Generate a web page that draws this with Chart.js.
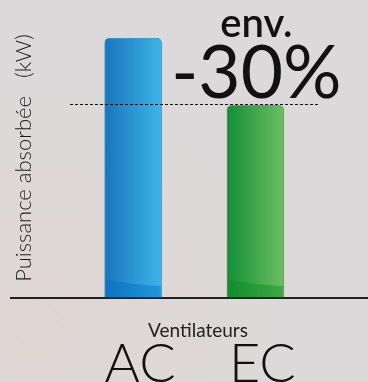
<!DOCTYPE html>
<html>
<head>
<meta charset="utf-8">
<script src="https://cdn.jsdelivr.net/npm/chart.js@4"></script>
<style>
  html, body { margin: 0; padding: 0; }
  body {
    width: 368px; height: 382px; overflow: hidden;
    background: radial-gradient(ellipse at 10% 85%, #e0d6d4 0%, #dcd9d9 45%, #dbd9d9 100%);
  }
</style>
</head>
<body>
<canvas id="myChart" width="368" height="382"></canvas>
<script>
// data
var categories = ['AC', 'EC'];
var values = [100, 74];
var yTitle = 'Puissance absorbée   (kW)';
var xTitle = 'Ventilateurs';
var noteTop = 'env.';
var noteBig = '-30%';

var barColors = [
  { left: '#1a76bd', right: '#3cb5e8', border: '#2b9fdc', shade: 'rgba(0,110,200,0.45)' },
  { left: '#148f37', right: '#6cbe62', border: '#4fae4d', shade: 'rgba(10,140,30,0.45)' }
];

function barGradient(context, key) {
  var chart = context.chart;
  if (!chart.chartArea) return barColors[context.dataIndex][key];
  var i = context.dataIndex;
  var x = chart.scales.x.getPixelForValue(i);
  var g = chart.ctx.createLinearGradient(x - 28, 0, x + 28, 0);
  g.addColorStop(0, barColors[i].left);
  g.addColorStop(1, barColors[i].right);
  return g;
}

// extra drawing: baseline, dashed reference, texts, glossy foot
var decorations = {
  id: 'decorations',
  afterDatasetsDraw: function (chart) {
    var ctx = chart.ctx;
    var area = chart.chartArea;
    var y = chart.scales.y;
    var meta = chart.getDatasetMeta(0);
    ctx.save();

    // darker foot band on bars
    meta.data.forEach(function (bar, i) {
      var l = bar.x - bar.width / 2 + 1, r = bar.x + bar.width / 2 - 1;
      ctx.beginPath();
      ctx.moveTo(l, area.bottom - 18);
      ctx.quadraticCurveTo(bar.x, area.bottom - 12, r, area.bottom - 11);
      ctx.lineTo(r, area.bottom);
      ctx.lineTo(l, area.bottom);
      ctx.closePath();
      ctx.fillStyle = barColors[i].shade;
      ctx.fill();
    });

    // dashed line at the EC level
    var yd = Math.round(y.getPixelForValue(values[1])) - 0.5;
    ctx.beginPath();
    ctx.setLineDash([3, 2]);
    ctx.strokeStyle = '#111';
    ctx.lineWidth = 1;
    ctx.moveTo(area.left - 2, yd);
    ctx.lineTo(area.right + 2, yd);
    ctx.stroke();
    ctx.setLineDash([]);

    // baseline
    ctx.beginPath();
    ctx.strokeStyle = '#222';
    ctx.lineWidth = 2;
    ctx.moveTo(10, area.bottom + 1);
    ctx.lineTo(chart.width, area.bottom + 1);
    ctx.stroke();

    ctx.fillStyle = '#111';
    ctx.textAlign = 'center';
    ctx.textBaseline = 'alphabetic';
    var cx = chart.scales.x.getPixelForValue(1) + 1;
    ctx.font = '600 40px Lato';
    ctx.fillText(noteTop, cx, 37);
    ctx.font = '400 73px Lato';
    ctx.fillText(noteBig, cx, 98);

    ctx.font = '19px Lato';
    ctx.fillStyle = '#222';
    ctx.fillText(xTitle, 198, 337);

    // y title
    ctx.save();
    ctx.translate(31, 158);
    ctx.rotate(-Math.PI / 2);
    ctx.font = '300 22px Lato';
    ctx.fillStyle = '#1a1a1a';
    ctx.fillText(yTitle, 0, 0);
    ctx.restore();

    ctx.restore();
  }
};

var ctx = document.getElementById('myChart').getContext('2d');
var chart = new Chart(ctx, {
  type: 'bar',
  data: {
    labels: categories,
    datasets: [{
      data: values,
      backgroundColor: function (c) { return barGradient(c); },
      borderColor: barColors.map(function (c) { return c.border; }),
      borderWidth: 1,
      borderRadius: { topLeft: 5, topRight: 5, bottomLeft: 0, bottomRight: 0 },
      borderSkipped: 'bottom',
      barThickness: 57
    }]
  },
  options: {
    responsive: false,
    animation: false,
    layout: { padding: { top: 38, right: 51.5, left: 0, bottom: 0 } },
    plugins: {
      legend: { display: false },
      tooltip: { enabled: false }
    },
    scales: {
      x: {
        grid: { display: false },
        border: { display: false },
        ticks: {
          color: '#111',
          font: { family: 'Lato', size: 54, weight: 300 },
          padding: 27,
          labelOffset: 7
        },
        afterFit: function (scale) { scale.height = 85; }
      },
      y: {
        min: 0,
        max: 100,
        grid: { display: false },
        border: { display: false },
        ticks: { display: false },
        afterFit: function (scale) { scale.width = 72; }
      }
    }
  },
  plugins: [decorations]
});
</script>
</body>
</html>
